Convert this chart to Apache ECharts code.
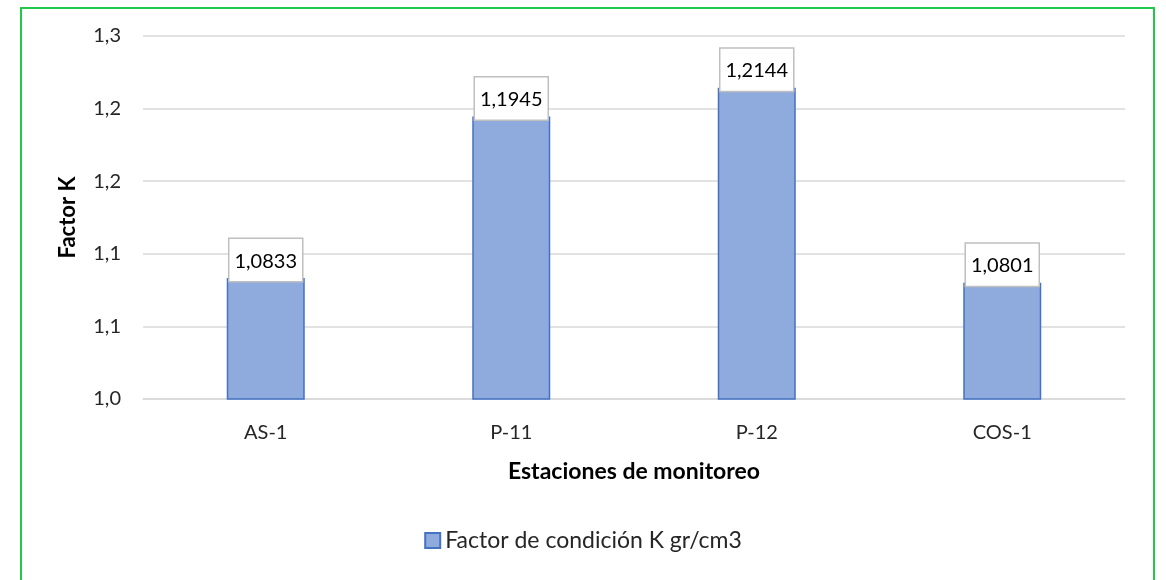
<!DOCTYPE html>
<html><head><meta charset="utf-8">
<script src="https://cdn.jsdelivr.net/npm/echarts@6/dist/echarts.min.js"></script>
<style>
html,body{margin:0;padding:0;background:#fff;}
#frame{position:absolute;left:20px;top:7px;width:1135px;height:600px;border:2px solid #22c84a;box-sizing:border-box;}
#c{position:absolute;left:0;top:0;width:1166px;height:580px;}
</style></head>
<body>
<div id="c"></div>
<div id="frame"></div>
<script>
const categories = ["AS-1", "P-11", "P-12", "COS-1"];
const values = [1.0833, 1.1945, 1.2144, 1.0801];
const valueLabels = ["1,0833", "1,1945", "1,2144", "1,0801"];
const tickLabels = ["1,0", "1,1", "1,1", "1,2", "1,2", "1,3"];
const seriesName = "Factor de condición K gr/cm3";

const font = "Lato, 'Open Sans', sans-serif";
const chart = echarts.init(document.getElementById('c'), null, {renderer: 'canvas'});
chart.setOption({
  animation: false,
  textStyle: {fontFamily: font},
  grid: {left: 143, right: 41, top: 36, bottom: 181},
  legend: {
    bottom: 23, left: 'center',
    data: [seriesName],
    icon: 'rect', itemWidth: 15, itemHeight: 15, itemGap: 6,
    textStyle: {fontSize: 23, color: '#262626', fontFamily: font}
  },
  xAxis: {
    type: 'category', data: categories,
    name: 'Estaciones de monitoreo', nameLocation: 'middle', nameGap: 61,
    nameTextStyle: {fontSize: 23, fontWeight: 'bold', color: '#000', fontFamily: font},
    axisLine: {lineStyle: {color: '#d9d9d9', width: 1.5}},
    axisTick: {show: false},
    axisLabel: {fontSize: 20, color: '#262626', margin: 24, fontFamily: font}
  },
  yAxis: {
    type: 'value', min: 1.0, max: 1.25, interval: 0.05,
    name: 'Factor K', nameLocation: 'middle', nameGap: 64, nameRotate: 90,
    nameTextStyle: {fontSize: 22, fontWeight: 'bold', color: '#000', fontFamily: font},
    axisLine: {show: false}, axisTick: {show: false},
    splitLine: {lineStyle: {color: '#d9d9d9', width: 1.5}},
    axisLabel: {
      fontSize: 20, color: '#262626', margin: 22, fontFamily: font,
      formatter: v => tickLabels[Math.round((v - 1.0) / 0.05)]
    }
  },
  series: [{
    name: seriesName, type: 'bar', data: values, barWidth: 78,
    itemStyle: {color: '#8faadc', borderColor: '#4472c4', borderWidth: 1.5},
    label: {
      show: true, position: 'top', distance: -3,
      formatter: p => valueLabels[p.dataIndex],
      fontSize: 20, color: '#000', fontFamily: font,
      backgroundColor: '#fff', borderColor: '#bfbfbf', borderWidth: 1.5,
      padding: [12, 5, 10, 5]
    }
  }]
});
</script>
</body></html>
